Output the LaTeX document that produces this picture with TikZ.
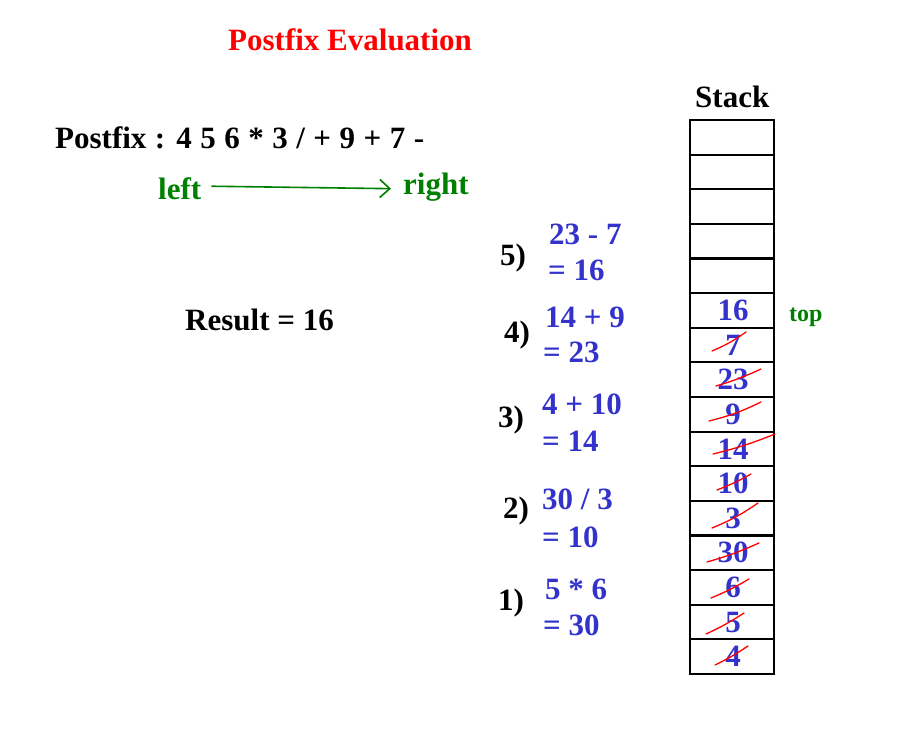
\documentclass[tikz,border=0pt]{standalone}
\usepackage{fontspec}
\setmainfont{Liberation Serif}
\usetikzlibrary{arrows.meta,calc}
\definecolor{tgreen}{RGB}{0,128,0}
\definecolor{tblue}{RGB}{51,51,204}
\definecolor{tred}{RGB}{255,0,0}
\begin{document}
\begin{tikzpicture}[x=1pt,y=-1pt,
  txt/.style={font=\fontsize{31}{31}\selectfont\bfseries, inner sep=0pt, anchor=base west},
  blk/.style={txt, text=black},
  grn/.style={txt, text=tgreen},
  blu/.style={txt, text=tblue},
  cell/.style={draw=black, line width=2pt, minimum width=84pt, minimum height=34.6pt, inner sep=0pt},
  num/.style={font=\fontsize{31}{31}\selectfont\bfseries, text=tblue, inner sep=0pt},
  strike/.style={draw=tred, line width=1.3pt, line cap=round},
  arr/.style={draw=tgreen, line width=1.6pt, -{Straight Barb[length=10pt,width=18pt,line width=1.6pt]}}
]
\useasboundingbox (0,0) rectangle (903,736);

% title and labels
\node[txt, text=tred] (title) at (228,50) {Postfix Evaluation};
\node[blk] (stacklbl) at (695,107) {Stack};
\node[blk] (postfix) at (55,148) {\spaceskip=8.5pt plus 2pt\relax Postfix : 4 5 6 * 3 / + 9 + 7 -};
\node[grn] (left) at (158,199) {left};
\node[grn] (right) at (403,194) {right};
\draw[arr] ([xshift=10pt,yshift=2pt]left.east) -- ([xshift=-12pt,yshift=-2pt]right.west);
\node[blk] (result) at (185,330) {Result = 16};

% steps
\node[blk] (s5) at (500,265) {5)};
\node[blu] (s5a) at (549,244) {23 - 7};
\node[blu] (s5b) at (548,280) {= 16};
\node[blk] (s4) at (504,342) {4)};
\node[blu] (s4a) at (545,327) {14 + 9};
\node[blu] (s4b) at (543,362) {= 23};
\node[blk] (s3) at (498,427) {3)};
\node[blu] (s3a) at (542,414) {4 + 10};
\node[blu] (s3b) at (542,451) {= 14};
\node[blk] (s2) at (503,518) {2)};
\node[blu] (s2a) at (542,509) {30 / 3};
\node[blu] (s2b) at (542,547) {= 10};
\node[blk] (s1) at (498,610) {1)};
\node[blu] (s1a) at (545,599) {5 * 6};
\node[blu] (s1b) at (543,635) {= 30};

% stack cells
\foreach \i in {0,...,15}
  \node[cell] (c\i) at (732,{120+34.625*(\i+0.5)}) {};

% values
\foreach \k/\v in {5/16,6/7,7/23,8/9,9/14,10/10,11/3,12/30,13/6,14/5,15/4}
  \node[num] (v\k) at ([xshift=1pt]c\k.center) {\v};

\node[font=\fontsize{24}{24}\selectfont\bfseries, text=tgreen, inner sep=0pt, anchor=base west] (top) at (789,321) {top};

% strike-throughs
\draw[strike] (712,351) to[bend right=6] (746,332);
\draw[strike] (716,386) to[bend right=4] (761,369);
\draw[strike] (709,421) to[bend right=6] (761,402);
\draw[strike] (713,454) to[bend right=4] (775,434);
\draw[strike] (717,490) to[bend right=4] (751,474);
\draw[strike] (712,528) to[bend right=6] (758,503);
\draw[strike] (707,562) to[bend right=4] (759,543);
\draw[strike] (711,598) to[bend right=4] (749,579);
\draw[strike] (706,634) to[bend right=4] (744,613);
\draw[strike] (715,665) to[bend right=4] (748,646);
\end{tikzpicture}
\end{document}
